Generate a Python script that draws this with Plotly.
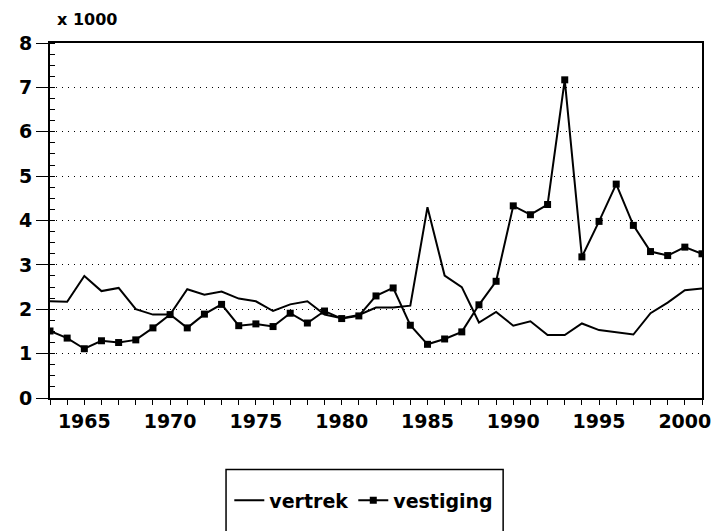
import plotly.graph_objects as go

years = list(range(1963, 2002))
vertrek = [2.18, 2.17, 2.75, 2.41, 2.48, 2.00, 1.88, 1.88, 2.45, 2.33,
           2.40, 2.24, 2.18, 1.96, 2.11, 2.18, 1.88, 1.80, 1.87, 2.04,
           2.04, 2.08, 4.30, 2.76, 2.50, 1.70, 1.94, 1.63, 1.73, 1.42,
           1.42, 1.68, 1.53, 1.48, 1.43, 1.91, 2.15, 2.43, 2.47]
vestiging = [1.51, 1.35, 1.11, 1.29, 1.25, 1.31, 1.58, 1.88, 1.58, 1.89,
             2.11, 1.63, 1.67, 1.61, 1.91, 1.69, 1.96, 1.79, 1.85, 2.30,
             2.48, 1.64, 1.21, 1.33, 1.49, 2.10, 2.63, 4.33, 4.13, 4.36,
             7.17, 3.18, 3.98, 4.82, 3.89, 3.30, 3.21, 3.40, 3.25]
x_tickvals = [1965, 1970, 1975, 1980, 1985, 1990, 1995, 2000]
y_tickvals = [0, 1, 2, 3, 4, 5, 6, 7, 8]

FONT = "DejaVu Sans"

fig = go.Figure()
fig.add_trace(go.Scatter(x=years, y=vertrek, name="<b>vertrek</b>", mode="lines",
                         line=dict(color="black", width=2)))
fig.add_trace(go.Scatter(x=years, y=vestiging, name="<b>vestiging</b>", mode="lines+markers",
                         line=dict(color="black", width=2),
                         marker=dict(symbol="square", size=7, color="black")))

# page body has an 8px default margin, so the figure is 8px smaller
fig.update_layout(
    width=714, height=523,
    margin=dict(l=38, r=11, t=35, b=131),
    paper_bgcolor="white", plot_bgcolor="white",
    font=dict(family=FONT, color="black", size=19),
    showlegend=True,
    legend=dict(orientation="h", x=0.275, xanchor="left", y=-0.235, yanchor="top",
                font=dict(family=FONT, size=19, color="black"),
                itemwidth=30, bgcolor="rgba(0,0,0,0)", traceorder="normal"),
    shapes=[dict(type="rect", xref="paper", yref="paper",
                 x0=0.27, x1=0.695, y0=-0.40, y1=-0.2017,
                 line=dict(color="black", width=1.5))],
    annotations=[dict(text="<b>x 1000</b>", xref="paper", yref="paper", x=0.008, y=1.067,
                      xanchor="left", yanchor="middle", showarrow=False,
                      font=dict(family=FONT, size=16, color="black"))],
)
fig.update_xaxes(range=[1963, 2001], tickvals=x_tickvals,
                 ticktext=[f"<b>{v}</b>" for v in x_tickvals],
                 ticks="outside", ticklen=5,
                 tickwidth=1, tickcolor="black", showline=True, linecolor="black",
                 linewidth=2, mirror=True, showgrid=False, zeroline=False,
                 minor=dict(dtick=1, tick0=1963, ticks="outside", ticklen=5,
                            tickcolor="black", showgrid=False),
                 tickfont=dict(family=FONT, size=19, color="black"))
fig.update_yaxes(range=[0, 8], tickvals=y_tickvals,
                 ticktext=[f"<b>{v}</b>" for v in y_tickvals],
                 ticks="outside", ticklen=12,
                 tickwidth=1, tickcolor="black", showline=True, linecolor="black",
                 linewidth=2, mirror=True, showgrid=True, gridcolor="black",
                 gridwidth=1, griddash="1px,5px", zeroline=False,
                 minor=dict(dtick=0.25, tick0=0, ticks="inside", ticklen=5,
                            tickcolor="black", showgrid=False),
                 tickfont=dict(family=FONT, size=19, color="black"))

fig.write_html("out.html")
